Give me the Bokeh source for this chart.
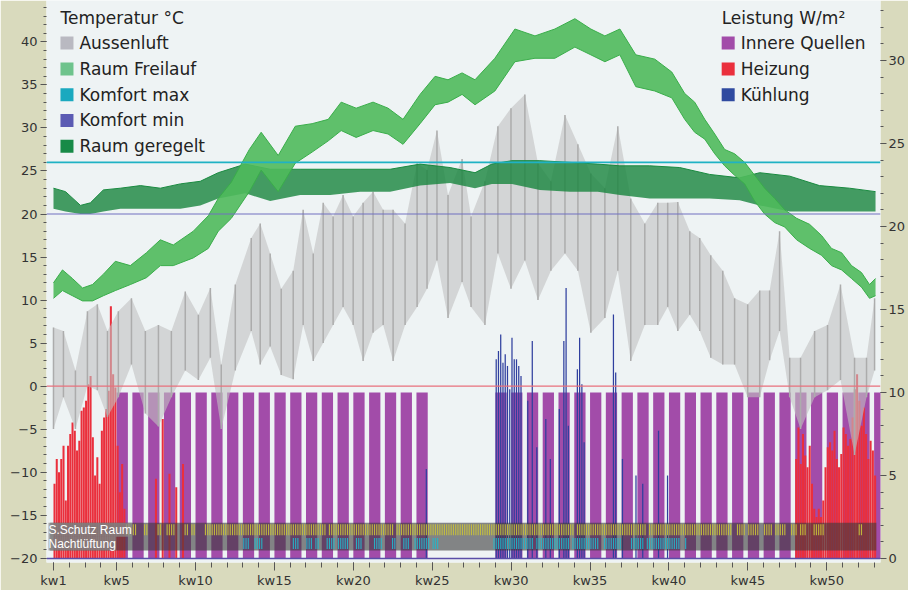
from bokeh.plotting import figure
from bokeh.models import Range1d, LinearAxis, FixedTicker, Label, Span
from bokeh.core.properties import value
from bokeh.embed import file_html
from bokeh.resources import INLINE

# ---------------- Daten ----------------
# Aussenluft: Kalenderwoche (Position), Minimum / Maximum in °C
aussen_woche = [1.00, 1.63, 2.39, 3.15, 3.78, 4.42, 5.11, 5.94, 6.82, 7.65, 8.47,
                9.35, 10.18, 10.94, 11.63, 12.52, 13.53, 14.10, 14.73, 15.43, 16.19,
                16.82, 17.46, 18.09, 18.72, 19.35, 19.99, 20.62, 21.25, 21.89, 22.52,
                23.28, 24.04, 24.67, 25.30, 26.00, 26.89, 27.46, 28.34, 29.16, 29.99,
                30.87, 31.70, 32.52, 33.41, 34.23, 35.05, 35.94, 36.76, 37.58, 38.47,
                39.29, 39.92, 40.56, 41.32, 41.95, 42.65, 43.41, 44.16, 44.99, 45.75,
                46.38, 47.01, 47.65, 48.34, 49.23, 50.05, 50.87, 51.76, 52.52, 53.03]
aussen_min = [-5.0, -1.3, -5.0, 0.0, -0.5, -3.6, -1.3, 2.5, -3.2, -4.7, -1.3,
              1.8, 0.7, 3.3, -5.0, 1.8, 6.4, 2.5, 4.6, 1.3, 0.8,
              7.1, 2.9, 5.0, 7.1, 9.2, 7.1, 2.9, 6.2, 7.1, 2.9,
              7.1, 9.2, 11.3, 14.6, 7.9, 12.1, 9.2, 7.1, 15.4, 11.3,
              14.6, 10.0, 13.4, 15.4, 13.4, 6.2, 7.9, 13.4, 2.9, 7.1,
              7.1, 9.2, 6.4, 8.3, 6.4, 3.3, 2.5, 2.5, -1.3, -1.3,
              3.0, 6.4, -1.3, -5.0, -1.3, -0.5, 0.7, -8.0, -1.3, 1.8]
aussen_max = [6.8, 6.4, 1.8, 8.7, 9.5, 6.4, 8.7, 10.2, 6.4, 7.1, 6.4,
              11.0, 8.3, 11.4, 2.5, 11.8, 17.2, 18.9, 15.4, 11.3, 13.4,
              20.5, 15.4, 21.3, 19.7, 22.2, 19.7, 21.3, 22.6, 20.5, 20.5,
              18.9, 25.9, 25.1, 29.7, 22.2, 26.4, 19.7, 23.8, 30.2, 32.3,
              33.9, 25.9, 23.8, 31.5, 28.1, 24.7, 23.0, 30.2, 21.8, 18.9,
              21.3, 21.3, 21.4, 18.0, 17.2, 15.2, 13.4, 10.2, 9.5, 11.1,
              11.1, 18.0, 3.3, 3.3, 6.4, 7.1, 11.8, 3.3, 3.3, 10.2]

# Raum Freilauf (ohne Regelung)
freilauf_woche = [1.00, 1.57, 2.20, 2.84, 3.47, 4.16, 4.92, 5.87, 6.89, 7.77, 8.59,
                  9.86, 10.81, 11.44, 12.27, 13.41, 14.16, 15.24, 16.32, 17.39, 18.41,
                  19.23, 20.18, 21.25, 22.20, 23.15, 24.23, 25.18, 26.00, 26.89, 27.71,
                  28.97, 30.24, 31.51, 32.77, 34.04, 35.05, 35.94, 36.89, 37.90, 39.10,
                  40.18, 41.00, 41.63, 42.27, 42.90, 43.53, 44.16, 44.80, 45.43, 46.06,
                  46.70, 47.33, 48.09, 48.91, 49.67, 50.30, 50.94, 51.57, 52.20, 52.71, 53.09]
freilauf_min = [10.2, 11.1, 10.5, 9.9, 9.9, 10.5, 11.1, 11.8, 12.6, 14.0, 14.0,
                14.9, 16.0, 18.0, 19.5, 22.6, 25.1, 22.6, 25.9, 27.2, 28.5,
                29.7, 28.9, 29.7, 29.3, 28.1, 30.5, 32.7, 33.0, 33.9, 32.7,
                34.3, 37.7, 38.1, 38.1, 39.4, 38.5, 37.7, 38.5, 34.8, 34.3,
                33.5, 31.0, 29.5, 28.7, 27.0, 25.6, 24.5, 23.5, 21.5, 20.0,
                19.0, 18.5, 17.0, 16.0, 15.2, 14.0, 13.5, 12.5, 11.5, 10.2, 10.5]
freilauf_max = [12.0, 13.5, 12.5, 11.4, 11.8, 13.0, 14.5, 14.0, 15.5, 17.0, 16.4,
                18.0, 19.8, 21.8, 23.7, 27.5, 29.5, 26.8, 30.2, 30.5, 31.0,
                33.0, 32.3, 33.0, 32.3, 31.0, 33.9, 36.0, 35.6, 36.4, 35.6,
                38.1, 41.5, 40.7, 41.5, 42.7, 41.5, 40.7, 41.5, 38.5, 38.0,
                36.5, 34.0, 33.0, 31.0, 29.3, 27.5, 27.0, 26.0, 24.5, 23.0,
                21.8, 20.5, 19.5, 18.8, 17.5, 16.0, 15.5, 14.0, 13.2, 11.8, 12.5]

# Raum geregelt
geregelt_woche = [1.00, 1.76, 2.71, 3.34, 4.16, 5.24, 6.51, 7.77, 9.04, 10.30, 11.44,
                  13.15, 14.73, 16.63, 18.53, 20.43, 22.33, 24.23, 26.13, 27.71, 28.78,
                  30.05, 31.82, 33.72, 35.49, 36.89, 38.78, 40.68, 42.58, 44.48, 45.75,
                  47.65, 49.54, 51.44, 53.09]
geregelt_min = [20.6, 20.3, 20.0, 20.0, 20.3, 20.6, 20.6, 20.6, 20.6, 21.0, 21.8,
                22.4, 21.5, 22.2, 22.2, 22.6, 22.6, 23.3, 23.6, 23.0, 23.5,
                23.5, 22.8, 22.6, 22.6, 22.2, 21.8, 21.8, 21.8, 21.6, 21.0,
                20.3, 20.3, 20.3, 20.3]
geregelt_max = [23.0, 22.6, 21.0, 21.3, 22.8, 23.0, 23.3, 23.0, 23.5, 23.8, 24.8,
                25.8, 25.2, 25.2, 25.2, 25.2, 25.2, 25.8, 25.4, 24.8, 25.8,
                26.2, 26.2, 26.0, 25.8, 25.6, 25.6, 25.4, 24.6, 24.2, 24.8,
                24.4, 23.3, 23.0, 22.6]

komfort_max = 26.0
komfort_min = 20.0

# Innere Quellen: belegte Wochen (Mo-Fr) und Leistung W/m²
belegt_wochen = [5, 6, 7, 8, 9, 10, 11, 12, 13, 14, 15, 16, 17, 18, 19, 20, 21, 22, 23, 24,
                 29, 30, 31, 32, 33, 34, 35, 36, 37, 38, 39, 40, 41, 42, 43, 44, 45, 46,
                 47, 48, 49, 50, 51, 52, 53]
innere_quellen_wm2 = 10.0
arbeitstage = 5

# Heizung: Tag des Jahres, W/m²
heiz_tag = [0, 1, 2, 3, 4, 5, 6, 7, 8, 9, 10, 11, 12, 13, 14, 15, 16, 17, 18, 19,
            20, 21, 22, 23, 24, 25, 26, 27, 28, 29, 30, 31, 45, 48, 51, 54, 57,
            329, 330, 331, 332, 333, 334, 335, 336, 337, 338, 339, 340, 341, 342, 343,
            344, 345, 346, 347, 348, 349, 350, 351, 352, 353, 354, 355, 356, 357, 358,
            359, 360, 361, 362, 363, 364]
heiz_wm2 = [4.5, 6.0, 5.2, 6.0, 6.8, 3.5, 6.8, 7.5, 8.2, 7.7, 6.5, 7.1, 8.9, 9.1, 9.5,
            10.5, 11.0, 7.3, 5.0, 6.1, 4.5, 7.7, 8.5, 9.0, 10.1, 15.2, 11.1, 10.3, 6.8,
            4.0, 5.7, 3.0, 4.8, 8.4, 5.1, 4.3, 5.7,
            6.0, 7.9, 5.7, 7.5, 6.2, 5.5, 6.8, 4.5, 3.0, 2.5, 3.0, 2.5, 3.5, 5.5, 6.7,
            7.0, 6.5, 7.7, 6.0, 5.5, 6.3, 7.9, 7.5, 6.8, 7.2, 8.5, 10.2, 11.1, 9.5, 8.0,
            9.1, 7.5, 6.0, 7.1, 6.5, 5.0]

# Kühlung: Tag des Jahres, W/m²
kuehl_tag = [165, 196, 197, 198, 199, 200, 201, 202, 203, 204, 205, 206, 207, 210, 212,
             214, 218, 220, 224, 226, 227, 228, 232, 233, 234, 235, 248, 249, 252, 258,
             261, 268, 272]
kuehl_wm2 = [5.4, 12.0, 12.5, 13.5, 11.8, 12.3, 11.6, 10.2, 13.3, 12.0, 12.0, 11.6, 11.0,
             9.5, 13.1, 6.7, 8.4, 6.0, 9.0, 13.1, 16.3, 8.0, 11.4, 13.3, 10.5, 7.0, 14.7,
             11.2, 6.0, 5.0, 4.5, 7.7, 5.0]

# Sonnenschutz aktiv / Nachtlüftung aktiv: Tagesbereiche (von, bis)
sschutz_tage = [(32, 33), (35, 36), (40, 41), (46, 47), (50, 53), (58, 59), (61, 62),
                (67, 120), (122, 150), (152, 230), (232, 262), (264, 300), (303, 306),
                (308, 312), (315, 318), (320, 324), (327, 329), (331, 333), (337, 341),
                (357, 358)]
nacht_tage = [(84, 86), (89, 92), (106, 108), (112, 114), (116, 117), (121, 124),
              (126, 130), (134, 136), (142, 145), (150, 151), (155, 157), (160, 166),
              (168, 170), (195, 212), (214, 228), (230, 241), (244, 251), (256, 261),
              (263, 277), (280, 280)]

kw_ticks = [1, 5, 10, 15, 20, 25, 30, 35, 40, 45, 50]
kw_labels = ["kw1", "kw5", "kw10", "kw15", "kw20", "kw25", "kw30", "kw35", "kw40", "kw45", "kw50"]

# ---------------- Layout ----------------
W, H = 908, 590
FL, FR, FT, FB = 46, 881, 0, 567          # frame in pixels
X0 = 1 + (FL - 53) / 15.8
X1 = 1 + (FR - 53) / 15.8
Y_TOP = (389 - FT) / 8.68
Y_BOT = (389 - FB) / 8.68
W_TOP = (563 - FT) / 16.75
W_BOT = (563 - FB) / 16.75


def dx(px):
    return X0 + (px - FL) * (X1 - X0) / (FR - FL)


def dy(py):
    return Y_TOP - (py - FT) * (Y_TOP - Y_BOT) / (FB - FT)


def tag2woche(d):
    return 1 + d / 7.0


p = figure(width=W, height=H, output_backend="svg", toolbar_location=None,
           x_range=Range1d(X0, X1), y_range=Range1d(Y_BOT, Y_TOP),
           min_border_left=FL, min_border_right=W - FR,
           min_border_top=FT, min_border_bottom=H - FB)
p.background_fill_color = "#eef3f4"
p.border_fill_color = "#d9dabd"
p.outline_line_color = None
p.xgrid.visible = False
p.ygrid.visible = False
p.extra_y_ranges = {"w": Range1d(W_BOT, W_TOP)}
ax_r = LinearAxis(y_range_name="w")
p.add_layout(ax_r, "right")


def style_axis(ax, size="13px"):
    ax.axis_line_color = None
    ax.major_tick_line_color = "#555555"
    ax.minor_tick_line_color = "#555555"
    ax.major_tick_in = 0
    ax.minor_tick_in = 0
    ax.major_tick_out = 6
    ax.minor_tick_out = 3
    ax.major_label_text_font = "DejaVu Sans"
    ax.major_label_text_font_size = size
    ax.major_label_text_color = "#333333"


xa = p.xaxis[0]
style_axis(xa, "13px")
xa.ticker = FixedTicker(ticks=kw_ticks, minor_ticks=list(range(1, 54)))
xa.major_label_overrides = {t: l for t, l in zip(kw_ticks, kw_labels)}
xa.major_label_standoff = 2
xa.major_tick_out = 8
xa.minor_tick_out = 5

ya = p.yaxis[0]
style_axis(ya, "13px")
ya.ticker = FixedTicker(ticks=list(range(-20, 45, 5)), minor_ticks=list(range(-20, 45)))
ya.major_label_standoff = 3

style_axis(ax_r, "13px")
ax_r.ticker = FixedTicker(ticks=list(range(0, 35, 5)), minor_ticks=list(range(0, 34)))
ax_r.major_label_standoff = 2
ax_r.major_tick_out = 6

# Bezugslinien
for loc, col, wd in [(0.0, "#e8707c", 1.2), (komfort_max, "#1fb2c4", 1.6), (komfort_min, "#7070c0", 1.2)]:
    p.add_layout(Span(location=loc, dimension="width", line_color=col, line_width=wd))

# Innere Quellen
iq_l = [w for w in belegt_wochen]
iq_r = [w + arbeitstage / 7.0 for w in belegt_wochen]
p.quad(left=iq_l, right=iq_r, bottom=0, top=[innere_quellen_wm2] * len(iq_l),
       y_range_name="w", fill_color="#a24ca9", line_color=None)

# Heizung
p.quad(left=[tag2woche(d) for d in heiz_tag], right=[tag2woche(d + 0.9) for d in heiz_tag],
       bottom=0, top=heiz_wm2, y_range_name="w", fill_color="#ea2f3c", line_color=None)

# Kühlung
p.quad(left=[tag2woche(d + 0.1) for d in kuehl_tag], right=[tag2woche(d + 0.65) for d in kuehl_tag],
       bottom=0, top=kuehl_wm2, y_range_name="w", fill_color="#2f3f9e", line_color=None)

# Aussenluft
p.varea(x=aussen_woche, y1=aussen_min, y2=aussen_max, fill_color="#c2c2c2", fill_alpha=0.6)
p.segment(x0=aussen_woche, y0=aussen_min, x1=aussen_woche, y1=aussen_max,
          line_color="#acacac", line_width=1.5)

# Raum geregelt
p.varea(x=geregelt_woche, y1=geregelt_min, y2=geregelt_max, fill_color="#18843d", fill_alpha=0.8)
p.line(geregelt_woche, geregelt_max, line_color="#1a8a40", line_width=1)

# Raum Freilauf
p.varea(x=freilauf_woche, y1=freilauf_min, y2=freilauf_max, fill_color="#4fba5c", fill_alpha=0.9)
p.line(freilauf_woche, freilauf_max, line_color="#3aad4a", line_width=1)
p.line(freilauf_woche, freilauf_min, line_color="#3aad4a", line_width=1)

# Basislinie
p.line([X0, X1], [0, 0], y_range_name="w", line_color="#5a4ea8", line_width=1.5)

# Streifen S.Schutz / Nachtlüftung
b_top, b_mid, b_bot = -15.9, -17.5, -19.1
p.quad(left=[tag2woche(-1.5)], right=[tag2woche(365)], bottom=[b_bot], top=[b_top],
       fill_color="#3a3a3a", fill_alpha=0.6, line_color=None)
sl, sr = [], []
for a, b in sschutz_tage:
    for d in range(a, b + 1):
        sl.append(tag2woche(d + 0.15))
        sr.append(tag2woche(d + 0.65))
p.quad(left=sl, right=sr, bottom=b_mid + 0.15, top=b_top - 0.15,
       fill_color="#c9c23a", fill_alpha=0.9, line_color=None)
nl, nr = [], []
for a, b in nacht_tage:
    for d in range(a, b + 1):
        nl.append(tag2woche(d + 0.15))
        nr.append(tag2woche(d + 0.65))
p.quad(left=nl, right=nr, bottom=b_bot + 0.15, top=b_mid - 0.15,
       fill_color="#22b8cc", fill_alpha=0.9, line_color=None)

for txt, yy in [("S.Schutz Raum", (b_top + b_mid) / 2), ("Nachtlüftung", (b_mid + b_bot) / 2)]:
    p.add_layout(Label(x=dx(48), y=yy, text=txt, text_baseline="middle", text_align="left",
                       text_color="white", text_font="Liberation Sans", text_font_size="12px",
                       background_fill_color="#8a8a8a", background_fill_alpha=0.75))

# Legenden
FONT = value("DejaVu Sans")
leg_t_names = ["Aussenluft", "Raum Freilauf", "Komfort max", "Komfort min", "Raum geregelt"]
leg_t_cols = ["#b9b9c1", "#6ec38c", "#1aa9bf", "#5b5bb3", "#178a47"]
leg_w_names = ["Innere Quellen", "Heizung", "Kühlung"]
leg_w_cols = ["#a24ca9", "#ea2f3c", "#2f4aa0"]
rows = [43, 69, 95, 121, 147]

p.text(x=[dx(60), dx(722)], y=[dy(18), dy(18)], text=["Temperatur °C", "Leistung W/m²"],
       text_font=FONT, text_font_size="17px", text_baseline="middle", text_color="#222222")
p.scatter(x=[dx(66.5)] * 5, y=[dy(r) for r in rows], marker="square", size=13,
          fill_color=leg_t_cols, line_color=None)
p.text(x=[dx(79)] * 5, y=[dy(r) for r in rows], text=leg_t_names,
       text_font=FONT, text_font_size="17px", text_baseline="middle", text_color="#222222")
p.scatter(x=[dx(728.5)] * 3, y=[dy(r) for r in rows[:3]], marker="square", size=13,
          fill_color=leg_w_cols, line_color=None)
p.text(x=[dx(741)] * 3, y=[dy(r) for r in rows[:3]], text=leg_w_names,
       text_font=FONT, text_font_size="17px", text_baseline="middle", text_color="#222222")

open("out.html", "w").write(file_html(p, INLINE))
